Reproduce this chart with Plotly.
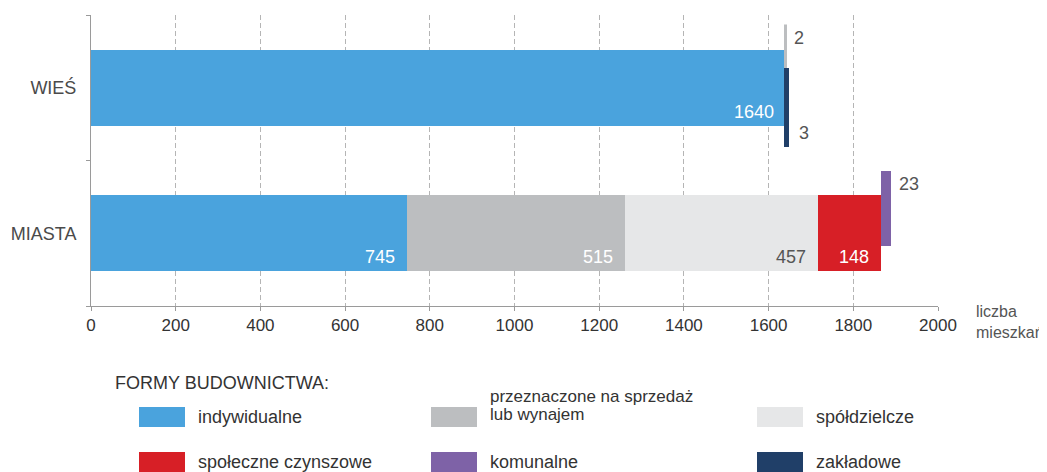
import plotly.graph_objects as go

# ---------------- data ----------------
categories = ["WIEŚ", "MIASTA"]
series_names = [
    "indywidualne",
    "przeznaczone na sprzedaż\nlub wynajem",
    "spółdzielcze",
    "społeczne czynszowe",
    "komunalne",
    "zakładowe",
]
indywidualne = [1640, 745]
przeznaczone = [2, 515]
spoldzielcze = [0, 457]
spoleczne = [0, 148]
komunalne = [0, 23]
zakladowe = [3, 0]
series_values = [indywidualne, przeznaczone, spoldzielcze, spoleczne, komunalne, zakladowe]
x_ticks = [0, 200, 400, 600, 800, 1000, 1200, 1400, 1600, 1800, 2000]

# ---------------- style ----------------
colors = ["#4aa3dd", "#bcbec0", "#e6e7e8", "#d71f26", "#7e62a7", "#203f68"]
label_colors = ["white", "white", "#555555", "white", "#555555", "#555555"]
FONT = "Liberation Sans, Arial, sans-serif"
PAGE_W, PAGE_H = 1047, 472
OFF = 8                                 # default body margin of the page
W, H = PAGE_W - OFF, PAGE_H - OFF
L, R, T, B = 91, 938, 15, 306          # plot area in page pixels
SMALL = 50                              # values drawn as thin offset bars
BAR_W = 0.52
UP, DOWN = 0.17, -0.14
cat_pos = {"WIEŚ": 1, "MIASTA": 0}


def px(xp):
    return (xp - L) / (R - L)


def py(yp):
    return (B - yp) / (B - T)


fig = go.Figure()
annotations = []

for ci, cat in enumerate(categories):
    y0 = cat_pos[cat]
    running = 0
    n_small = 0
    for si, vals in enumerate(series_values):
        v = vals[ci]
        if v == 0:
            continue
        if v >= SMALL:
            fig.add_trace(go.Bar(
                y=[y0], x=[v], base=[running], orientation="h", width=BAR_W,
                marker=dict(color=colors[si], line=dict(width=0)),
                showlegend=False, hoverinfo="skip"))
            annotations.append(dict(
                x=running + v, y=y0 - 0.165, xref="x", yref="y", text=str(v),
                showarrow=False, xanchor="right", yanchor="middle", xshift=-10,
                font=dict(size=18, color=label_colors[si], family=FONT)))
        else:
            off = UP if n_small == 0 else DOWN
            yy = y0 + off
            lw = 3 if v < 10 else 0
            fig.add_trace(go.Bar(
                y=[yy], x=[v], base=[running], orientation="h", width=BAR_W,
                marker=dict(color=colors[si], line=dict(width=lw, color=colors[si])),
                showlegend=False, hoverinfo="skip"))
            if n_small == 0:
                annotations.append(dict(
                    x=running + v, y=yy + BAR_W / 2, xref="x", yref="y", text=str(v),
                    showarrow=False, xanchor="left", yanchor="top", xshift=6, yshift=-1,
                    font=dict(size=18, color="#555555", family=FONT)))
            else:
                annotations.append(dict(
                    x=running + v, y=yy - BAR_W / 2, xref="x", yref="y", text=str(v),
                    showarrow=False, xanchor="left", yanchor="bottom", xshift=9, yshift=1,
                    font=dict(size=18, color="#555555", family=FONT)))
            n_small += 1
        running += v

# axis title
annotations.append(dict(x=px(974), y=py(322), xref="paper", yref="paper",
                        text="liczba<br>mieszkań", showarrow=False, xanchor="left",
                        yanchor="middle", align="left",
                        font=dict(size=16, color="#555555", family=FONT)))

# legend (manual)
annotations.append(dict(x=px(113), y=py(383), xref="paper", yref="paper",
                        text="FORMY BUDOWNICTWA:", showarrow=False, xanchor="left",
                        yanchor="middle", font=dict(size=18, color="#333333", family=FONT)))
shapes = []
col_sw = [139, 431, 757]
row_c = [417, 462]
for i, name in enumerate(series_names):
    r, c = divmod(i, 3)
    x0 = col_sw[c]
    yc = row_c[r]
    shapes.append(dict(type="rect", xref="paper", yref="paper",
                       x0=px(x0), x1=px(x0 + 46), y0=py(min(yc + 10, PAGE_H)), y1=py(yc - 10),
                       fillcolor=colors[i], line=dict(width=0)))
    lines = name.split("\n")
    n = len(lines)
    fs = 18 if n == 1 else 17
    for li, line in enumerate(lines):
        ly = yc + (li - (n - 1) / 2) * 18 - (12 if n > 1 else 0) + (li * 0)
        if n > 1:
            ly = yc - 21 + li * 18
        annotations.append(dict(x=px(x0 + 57), y=py(ly), xref="paper", yref="paper",
                                text=line, showarrow=False, xanchor="left", yanchor="middle",
                                font=dict(size=fs, color="#333333", family=FONT)))

fig.update_layout(
    width=W, height=H, autosize=False,
    margin=dict(l=L - OFF, r=PAGE_W - R, t=T - OFF, b=PAGE_H - B, pad=0),
    paper_bgcolor="white", plot_bgcolor="white",
    barmode="overlay", bargap=0,
    font=dict(family=FONT, color="#333333"),
    annotations=annotations, shapes=shapes,
    xaxis=dict(range=[0, 2000], tickvals=x_ticks, ticktext=[str(t) for t in x_ticks],
               showgrid=True, gridcolor="#b5b5b5", griddash="5px,3px", gridwidth=1,
               zeroline=False, showline=True, linecolor="#9a9a9a", linewidth=1,
               ticks="outside", ticklen=4, tickcolor="#9a9a9a", automargin=False,
               tickfont=dict(size=17, color="#333333", family=FONT), fixedrange=True),
    yaxis=dict(range=[-0.5, 1.5], tickvals=[cat_pos[c] for c in categories],
               ticktext=categories, showgrid=False, zeroline=False,
               showline=True, linecolor="#9a9a9a", linewidth=1, ticks="",
               ticklabelstandoff=10, automargin=False,
               minor=dict(tickvals=[-0.5, 0.5, 1.5], ticks="outside", ticklen=4,
                          tickcolor="#9a9a9a", showgrid=False),
               tickfont=dict(size=18, color="#4a4a4a", family=FONT), fixedrange=True),
)

fig.write_html("out.html")
